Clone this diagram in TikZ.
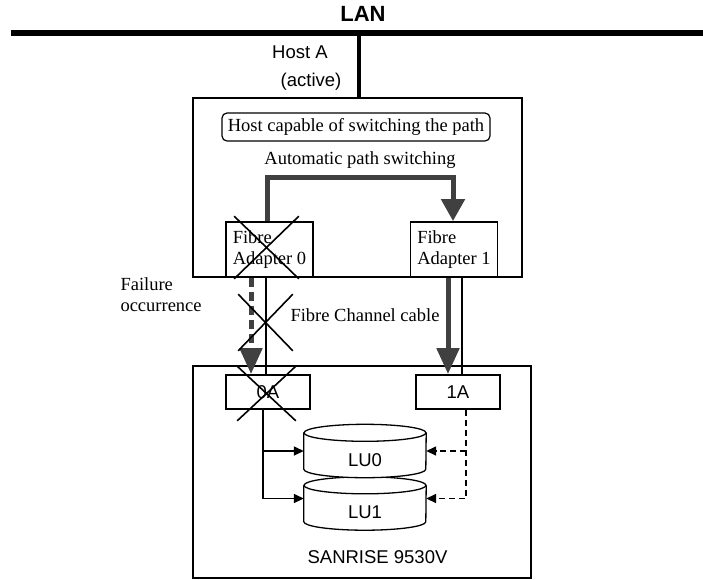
\documentclass[tikz,border=0pt]{standalone}
\usepackage{fontspec}
\setmainfont{Liberation Serif}
\newfontfamily\arial{Liberation Sans}
\usetikzlibrary{arrows.meta, shapes.misc, calc}
\definecolor{pathgray}{HTML}{404040}

\begin{document}
\begin{tikzpicture}[x=1pt, y=-1pt,
  >={Triangle[length=10pt, width=9pt]},
  every node/.style={font=\fontsize{18.5}{21}\selectfont},
  sans/.style={font=\arial\fontsize{18.5}{21}\selectfont},
  box/.style={draw, line width=1.8pt, inner sep=0pt},
  adapter/.style={box, minimum width=87, minimum height=55, align=left},
  port/.style={box, sans, minimum width=84, minimum height=34},
  xmark/.style={draw, cross out, line width=1.6pt, inner sep=0pt},
  fatpath/.style={pathgray, line width=5pt},
  bigtip/.style={-{Triangle[length=26pt, width=22pt]}},
  link/.style={line width=1.6pt},
  lu/.style={minimum width=122, minimum height=36, inner sep=0pt},
]

\useasboundingbox (0,0) rectangle (703,579);

% ============ LAN ============
\node[font=\arial\bfseries\fontsize{22}{24}\selectfont] (lan) at (363,14) {LAN};
\coordinate (busL) at (11,33);
\coordinate (busR) at (703,33);
\draw[line width=5.5pt] (busL) -- (busR);

% ============ Host A ============
\node[box, line width=2.5pt, minimum width=329, minimum height=179] (host) at (357.5,187.5) {};
\coordinate (tap) at (359,33);
\draw[line width=4.5pt] (tap) -- (tap |- host.north);
\node[sans] (hostA) at (300,52) {Host A};
\node[sans] (active) at (311,82) {(active)};

\node[draw, line width=1.2pt, rounded corners=5pt, minimum width=268, minimum height=28, inner sep=0pt] (cap) at (356,127) {Host capable of switching the path};
\node (auto) at (360,160) {Automatic path switching};

% Adapters
\node[adapter] (ad0) at (269.5,249.5) {Fibre\\Adapter 0};
\node[adapter] (ad1) at (454,249.5) {Fibre\\Adapter 1};

% Path switching arrow
\coordinate (swL) at (267,177);
\coordinate (swR) at (453,177);
\draw[fatpath, -{Triangle[length=22pt, width=23pt]}] (swL |- ad0.north) -- (swL) -- (swR) -- (swR |- ad1.north);

\node[xmark, minimum width=63, minimum height=61] (xad0) at (266.5,247.5) {};

% ============ Storage ============
\node[box, line width=1.3pt, minimum width=338, minimum height=212] (store) at (362,472) {};
\node[sans] (model) at (377.5,557) {SANRISE 9530V};

\node[port] (p0A) at (268,392) {0A};
\node[port] (p1A) at (458,392) {1A};

% Fibre Channel cables
\coordinate (c0) at (251,0);
\coordinate (c0t) at (266,0);
\coordinate (c1) at (448,0);
\coordinate (c1t) at (462,0);
\draw[fatpath, dash pattern=on 9pt off 5pt, bigtip] (ad0.south -| c0) -- (p0A.north -| c0);
\draw[link] (ad0.south -| c0t) -- (p0A.north -| c0t);
\draw[fatpath, bigtip] (ad1.south -| c1) -- (p1A.north -| c1);
\draw[link] (ad1.south -| c1t) -- (p1A.north -| c1t);

\node[xmark, minimum width=53, minimum height=55] (xcab) at (265.5,322.5) {};
\node[xmark, minimum width=57, minimum height=53] (xp0A) at (266.5,393.5) {};

\node (cable) at (365,315) {Fibre Channel cable};
\node[align=left, anchor=west] (fail) at (117,295) {Failure\\occurrence};

% Logical units
\node[lu] (LU1) at (365,503.5) {};
\node[lu] (LU0) at (365,451) {};
\foreach \lu in {LU1, LU0} {
  \filldraw[fill=white, line width=1.3pt] (\lu.north west) -- (\lu.south west)
    arc[start angle=180, end angle=360, x radius=61pt, y radius=8.5pt] -- (\lu.north east);
  \draw[line width=1.3pt] (\lu.north) ellipse[x radius=61pt, y radius=8.5pt];
}
\node[sans] (LU0t) at ($(LU0)+(0,9)$) {LU0};
\node[sans] (LU1t) at ($(LU1)+(0,9)$) {LU1};

% Port to LU links
\coordinate (j0) at (263,0);
\coordinate (j1) at (466,0);
\draw[link, ->] (p0A.south -| j0) |- ([yshift=5pt]LU1.west);
\draw[link, ->] (j0 |- LU0.west) -- (LU0.west);
\draw[link, dash pattern=on 6pt off 4pt, ->] (p1A.south -| j1) |- ([yshift=5pt]LU1.east);
\draw[link, dash pattern=on 6pt off 4pt, ->] (j1 |- LU0.east) -- (LU0.east);

\end{tikzpicture}
\end{document}
